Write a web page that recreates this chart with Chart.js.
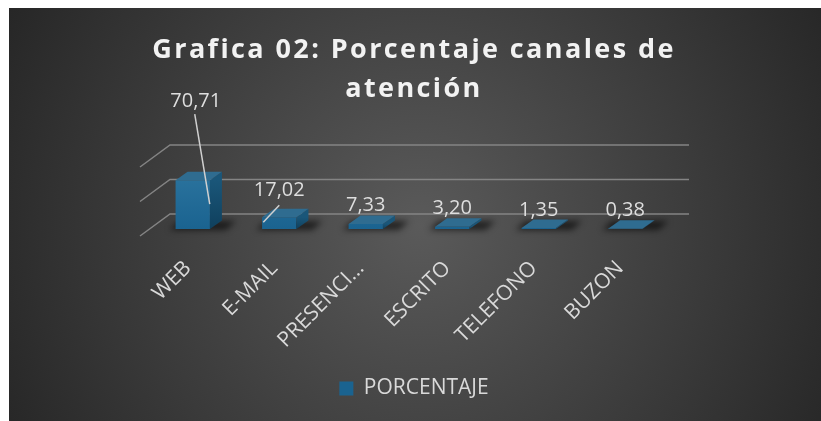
<!DOCTYPE html>
<html>
<head>
<meta charset="utf-8">
<script src="https://cdn.jsdelivr.net/npm/chart.js@4.4.0/dist/chart.umd.min.js"></script>
<style>
  html, body { margin: 0; padding: 0; background: #fff; }
  canvas { display: block; }
</style>
</head>
<body>
<canvas id="grafica" width="821" height="421"></canvas>
<script>
// Datos de la gráfica
const canales = ['WEB', 'E-MAIL', 'PRESENCIAL', 'ESCRITO', 'TELEFONO', 'BUZON'];
const porcentajes = [70.71, 17.02, 7.33, 3.20, 1.35, 0.38];
const nombreSerie = 'PORCENTAJE';
const tituloLineas = ['Grafica 02: Porcentaje canales de', 'atención'];
const ejeMin = 0;
const ejeMax = 100;
const ejePaso = 50;

const FUENTE = "'Open Sans', 'Noto Sans', sans-serif";
const PROF_X = 12, PROF_Y = -8.5;   // profundidad de cada barra 3D
const SUELO_X = 30, SUELO_Y = 22;   // profundidad del suelo / pared

// etiquetas que Excel movió con línea guía
const etiquetasMovidas = {
    0: { dx: 3, dy: -80, desde: [2, -66], hasta: [17, 24] },
    1: { dx: 0, dy: -28, desde: [0, -12], hasta: [-16, 5] }
};

function poligono(ctx, pts) {
    ctx.beginPath();
    ctx.moveTo(pts[0][0], pts[0][1]);
    for (let i = 1; i < pts.length; i++) ctx.lineTo(pts[i][0], pts[i][1]);
    ctx.closePath();
    ctx.fill();
}

// Fondo: marco blanco y degradado radial oscuro
const fondo = {
    id: 'fondo',
    beforeDraw(chart) {
        const ctx = chart.ctx;
        ctx.save();
        ctx.fillStyle = '#ffffff';
        ctx.fillRect(0, 0, chart.width, chart.height);
        const g = ctx.createRadialGradient(420, 225, 0, 420, 225, 470);
        g.addColorStop(0, '#5a5a5a');
        g.addColorStop(1, '#262626');
        ctx.fillStyle = g;
        ctx.fillRect(9, 8, chart.width - 9, chart.height - 8);
        ctx.restore();

        // espaciado de letras solo para el título
        const t = chart.titleBlock;
        if (t && !t._espaciado) {
            const dibujar = t.draw;
            t.draw = function () {
                chart.ctx.letterSpacing = '2.4px';
                dibujar.apply(this, arguments);
                chart.ctx.letterSpacing = '0px';
            };
            t._espaciado = true;
        }
    }
};

// Líneas de división en perspectiva y sombras del suelo
const suelo = {
    id: 'suelo',
    beforeDatasetsDraw(chart) {
        const { ctx, chartArea, scales } = chart;
        const y = scales.y;
        const izq = chartArea.left - 9.5;
        const der = chartArea.right + 20.5;
        ctx.save();
        ctx.strokeStyle = '#848484';
        ctx.lineWidth = 1.5;
        y.ticks.forEach(t => {
            const py = y.getPixelForValue(t.value);
            ctx.beginPath();
            ctx.moveTo(izq, py + 7);
            ctx.lineTo(izq + SUELO_X, py + 7 - SUELO_Y);
            ctx.lineTo(der, py + 7 - SUELO_Y);
            ctx.stroke();
        });
        ctx.filter = 'blur(3px)';
        ctx.fillStyle = 'rgba(0,0,0,0.6)';
        chart.getDatasetMeta(0).data.forEach(bar => {
            const { x, base, width } = bar.getProps(['x', 'base', 'width'], true);
            poligono(ctx, [
                [x - width / 2 - 6, base + 1],
                [x + width / 2 + 16, base + 1],
                [x + width / 2 + 26, base - 8],
                [x - width / 2 + 4, base - 8]
            ]);
        });
        ctx.restore();
    }
};

// Caras superior y lateral de las barras
const caras3d = {
    id: 'caras3d',
    afterDatasetsDraw(chart) {
        const ctx = chart.ctx;
        ctx.save();
        chart.getDatasetMeta(0).data.forEach(bar => {
            const { x, y, base, width } = bar.getProps(['x', 'y', 'base', 'width'], true);
            const l = x - width / 2, r = x + width / 2;
            const gl = ctx.createLinearGradient(0, y, 0, base);
            gl.addColorStop(0, '#1a5679');
            gl.addColorStop(1, '#0f405d');
            ctx.fillStyle = gl;
            poligono(ctx, [[r, y], [r + PROF_X, y + PROF_Y], [r + PROF_X, base + PROF_Y], [r, base]]);
            ctx.fillStyle = '#2f6c90';
            poligono(ctx, [[l, y], [r, y], [r + PROF_X, y + PROF_Y], [l + PROF_X, y + PROF_Y]]);
        });
        ctx.restore();
    }
};

// Etiquetas de datos con coma decimal
const etiquetas = {
    id: 'etiquetas',
    afterDatasetsDraw(chart) {
        const ctx = chart.ctx;
        ctx.save();
        ctx.font = '20px ' + FUENTE;
        ctx.textAlign = 'center';
        ctx.textBaseline = 'alphabetic';
        ctx.fillStyle = '#dedede';
        ctx.strokeStyle = '#d0d0d0';
        ctx.lineWidth = 1.5;
        chart.getDatasetMeta(0).data.forEach((bar, i) => {
            const { x, y } = bar.getProps(['x', 'y'], true);
            const texto = porcentajes[i].toFixed(2).replace('.', ',');
            const m = etiquetasMovidas[i];
            let cy;
            if (m) {
                cy = y + m.dy;
                ctx.beginPath();
                ctx.moveTo(x + m.desde[0], y + m.desde[1]);
                ctx.lineTo(x + m.hasta[0], y + m.hasta[1]);
                ctx.stroke();
                ctx.fillText(texto, x + m.dx, cy + 7);
            } else {
                cy = y + PROF_Y - 11;
                ctx.fillText(texto, x, cy + 7);
            }
        });
        ctx.restore();
    }
};

const ctx = document.getElementById('grafica').getContext('2d');
const grafica = new Chart(ctx, {
    type: 'bar',
    data: {
        labels: canales,
        datasets: [{
            label: nombreSerie,
            data: porcentajes,
            backgroundColor(c) {
                const area = c.chart.chartArea;
                if (!area) return '#1c6790';
                const g = c.chart.ctx.createLinearGradient(0, area.top, 0, area.bottom);
                g.addColorStop(0, '#2f77a1');
                g.addColorStop(1, '#1a6390');
                return g;
            },
            borderWidth: 0,
            categoryPercentage: 1,
            barPercentage: 0.397
        }]
    },
    options: {
        responsive: false,
        animation: false,
        devicePixelRatio: 1,
        layout: { padding: { left: 9, right: 2, top: 0, bottom: 12 } },
        scales: {
            x: {
                grid: { display: false },
                border: { display: false },
                ticks: {
                    color: '#d9d9d9',
                    font: { family: FUENTE, size: 21 },
                    minRotation: 45,
                    maxRotation: 45,
                    autoSkip: false,
                    padding: 19,
                    labelOffset: -5,
                    callback(v) {
                        const t = this.getLabelForValue(v);
                        return t.length > 8 ? t.slice(0, 8) + '...' : t;
                    }
                },
                afterFit(s) { s.height = 140; }
            },
            y: {
                min: ejeMin,
                max: ejeMax,
                ticks: { display: false, stepSize: ejePaso },
                grid: { display: false },
                border: { display: false },
                afterFit(s) { s.width = 140.5; }
            },
            yR: {
                position: 'right',
                min: ejeMin,
                max: ejeMax,
                ticks: { display: false },
                grid: { display: false },
                border: { display: false },
                afterFit(s) { s.width = 150.5; }
            }
        },
        plugins: {
            title: {
                display: true,
                text: tituloLineas,
                color: '#f2f2f2',
                font: { family: FUENTE, size: 27, weight: 'bold', lineHeight: '39px' },
                padding: { top: 31, bottom: 51 }
            },
            legend: {
                position: 'bottom',
                labels: {
                    color: '#d9d9d9',
                    font: { family: FUENTE, size: 21 },
                    boxWidth: 14,
                    boxHeight: 14,
                    padding: 9
                }
            },
            tooltip: { enabled: false }
        }
    },
    plugins: [fondo, suelo, caras3d, etiquetas]
});
</script>
</body>
</html>
